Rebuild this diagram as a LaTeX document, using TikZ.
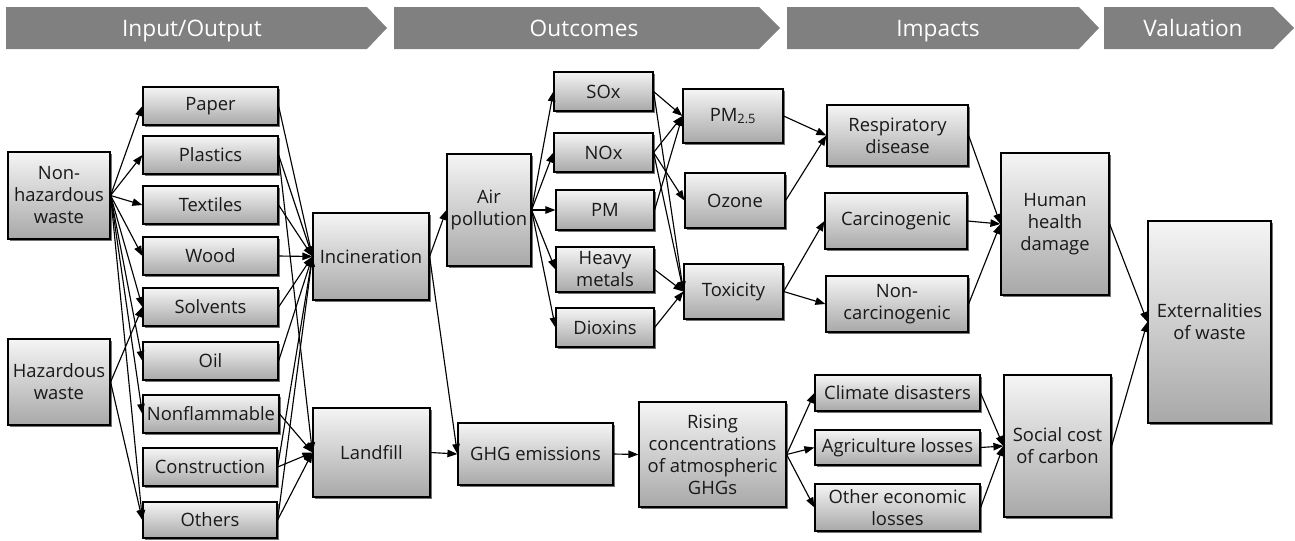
\documentclass[tikz,border=0pt]{standalone}
\usepackage{fontspec}
\setmainfont{Open Sans}
\usetikzlibrary{arrows.meta,shadows}
\tikzset{
 box/.style={draw=black, line width=0.9pt, top color=black!4, bottom color=black!34, align=center, inner sep=0pt, font=\fontsize{13.8}{16.5}\selectfont, text=black!90, drop shadow={shadow xshift=1.6pt, shadow yshift=-1.6pt, fill=black, opacity=0.55}},
 arr/.style={-{Triangle[length=7.5pt,width=5.6pt]}, line width=0.85pt},
 chev/.style={fill=black!50, draw=none},
 chevtext/.style={text=white, anchor=base, font=\fontsize{17}{19}\selectfont}
}
\newcommand\bx[6]{\node[box, minimum width={(#4-#2)*0.75pt}, minimum height={(#5-#3)*0.75pt}] (#1) at ({(#2+#4)/2},{(#3+#5)/2}) {#6};}
\begin{document}
\begin{tikzpicture}[x=0.75pt,y=-0.75pt]
\useasboundingbox (0,0) rectangle (1295,540);
% header chevrons
\fill[chev] (6,7) -- (367,7) -- (387,28) -- (367,49) -- (6,49) -- cycle;
\node[chevtext] (h1) at (192,36) {Input/Output};
\fill[chev] (394,7) -- (759,7) -- (780,28) -- (759,49) -- (394,49) -- cycle;
\node[chevtext] (h2) at (584,36) {Outcomes};
\fill[chev] (787,7) -- (1079,7) -- (1099,28) -- (1079,49) -- (787,49) -- cycle;
\node[chevtext] (h3) at (938,36) {Impacts};
\fill[chev] (1104,7) -- (1273,7) -- (1294,28) -- (1273,49) -- (1104,49) -- cycle;
\node[chevtext] (h4) at (1193,36) {Valuation};
% boxes
\bx{nh}{8}{152}{110}{239}{Non-\\hazardous\\waste}
\bx{hz}{8}{339}{110}{425}{Hazardous\\waste}
\bx{paper}{143}{87}{278}{125}{Paper}
\bx{plastics}{143}{136}{278}{174}{Plastics}
\bx{textiles}{143}{186}{278}{224}{Textiles}
\bx{wood}{143}{237}{278}{275}{Wood}
\bx{solvents}{143}{288}{278}{326}{Solvents}
\bx{oil}{143}{342}{278}{380}{Oil}
\bx{nonfl}{143}{395}{279}{433}{Nonflammable}
\bx{constr}{143}{448}{277}{486}{Construction}
\bx{others}{143}{502}{277}{538}{Others}
\bx{inc}{313}{213}{429}{300}{Incineration}
\bx{lf}{313}{408}{430}{497}{Landfill}
\bx{air}{447}{154}{531}{266}{Air\\pollution}
\bx{ghg}{458}{423}{613}{485}{GHG emissions}
\bx{sox}{554}{72}{653}{111}{SOx}
\bx{nox}{554}{133}{653}{172}{NOx}
\bx{pm}{556}{190}{654}{230}{PM}
\bx{hm}{556}{247}{654}{292}{Heavy\\metals}
\bx{dx}{556}{308}{654}{347}{Dioxins}
\bx{pmt}{683}{89}{783}{143}{PM\textsubscript{2.5}}
\bx{oz}{685}{173}{785}{228}{Ozone}
\bx{tox}{684}{264}{783}{319}{Toxicity}
\bx{resp}{827}{105}{968}{166}{Respiratory\\disease}
\bx{carc}{825}{193}{967}{249}{Carcinogenic}
\bx{ncarc}{826}{276}{968}{332}{Non-\\carcinogenic}
\bx{hhd}{1001}{153}{1109}{295}{Human\\health\\damage}
\bx{ext}{1148}{221}{1271}{423}{Externalities\\of waste}
\bx{rise}{639}{402}{786}{507}{Rising\\concentrations\\of atmospheric\\GHGs}
\bx{clim}{815}{375}{980}{411}{Climate disasters}
\bx{agri}{815}{430}{980}{465}{Agriculture losses}
\bx{oth}{815}{484}{980}{531}{Other economic\\losses}
\bx{scc}{1004}{375}{1111}{517}{Social cost\\of carbon}
% connectors
\foreach \t in {paper,plastics,textiles,wood,solvents,oil,nonfl,others}
  \draw[arr] (nh.east) -- (\t.west);
\foreach \t in {solvents,others}
  \draw[arr] (hz.east) -- (\t.west);
\foreach \s in {paper,plastics,textiles,wood,solvents,oil,constr,others}
  \draw[arr] (\s.east) -- (inc.west);
\foreach \s in {plastics,nonfl,constr,others}
  \draw[arr] (\s.east) -- (lf.west);
\draw[arr] (inc.east) -- (air.west);
\draw[arr] (inc.east) -- (ghg.west);
\draw[arr] (lf.east) -- (ghg.west);
\foreach \t in {sox,nox,pm,hm,dx}
  \draw[arr] (air.east) -- (\t.west);
\draw[arr] (sox.east) -- (pmt.west);
\draw[arr] (sox.east) -- (tox.west);
\draw[arr] (nox.east) -- (pmt.west);
\draw[arr] (nox.east) -- (oz.west);
\draw[arr] (nox.east) -- (tox.west);
\draw[arr] (pm.east) -- (pmt.west);
\draw[arr] (hm.east) -- (tox.west);
\draw[arr] (dx.east) -- (tox.west);
\draw[arr] (pmt.east) -- (resp.west);
\draw[arr] (oz.east) -- (resp.west);
\draw[arr] (tox.east) -- (carc.west);
\draw[arr] (tox.east) -- (ncarc.west);
\foreach \s in {resp,carc,ncarc}
  \draw[arr] (\s.east) -- (hhd.west);
\draw[arr] (hhd.east) -- (ext.west);
\draw[arr] (ghg.east) -- (rise.west);
\foreach \t in {clim,agri,oth}
  \draw[arr] (rise.east) -- (\t.west);
\foreach \s in {clim,agri,oth}
  \draw[arr] (\s.east) -- (scc.west);
\draw[arr] (scc.east) -- (ext.west);
\end{tikzpicture}
\end{document}
